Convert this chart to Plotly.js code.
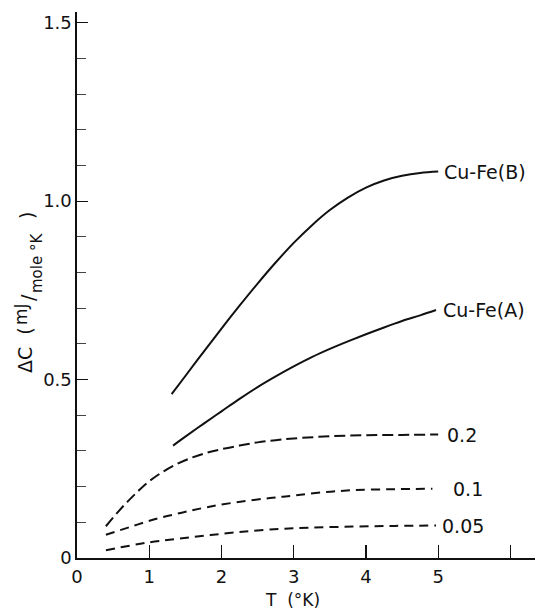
<!DOCTYPE html>
<html>
<head>
<meta charset="utf-8">
<script src="https://cdn.plot.ly/plotly-3.0.1.min.js"></script>
<style>
  html, body { margin: 0; padding: 0; background: #fff; }
  #chart { width: 536px; height: 610px; }
</style>
</head>
<body>
<div id="chart"></div>
<script>
// Excess specific heat ΔC (mJ/mole °K) against temperature T (°K)
const tB = [1.31, 1.5, 1.75, 2.0, 2.25, 2.5, 2.75, 3.0, 3.25, 3.5, 3.75, 4.0, 4.25, 4.5, 4.75, 5.0];
const cB = [0.459, 0.510, 0.577, 0.643, 0.707, 0.769, 0.828, 0.883, 0.932, 0.975, 1.010, 1.038, 1.058, 1.071, 1.079, 1.083];

const tA = [1.33, 1.5, 1.75, 2.0, 2.25, 2.5, 2.75, 3.0, 3.25, 3.5, 3.75, 4.0, 4.25, 4.5, 4.75, 4.97];
const cA = [0.315, 0.340, 0.376, 0.411, 0.446, 0.479, 0.509, 0.537, 0.563, 0.586, 0.607, 0.627, 0.646, 0.664, 0.680, 0.695];

const t02 = [0.40, 0.55, 0.70, 0.85, 1.0, 1.2, 1.4, 1.6, 1.8, 2.0, 2.25, 2.5, 2.75, 3.0, 3.5, 4.0, 4.5, 5.0];
const c02 = [0.089, 0.125, 0.158, 0.188, 0.215, 0.243, 0.265, 0.282, 0.295, 0.305, 0.315, 0.324, 0.330, 0.335, 0.341, 0.344, 0.345, 0.346];

const t01 = [0.40, 0.75, 1.10, 1.45, 1.79, 2.2, 2.67, 3.0, 3.4, 3.82, 4.4, 4.92];
const c01 = [0.065, 0.088, 0.110, 0.127, 0.142, 0.156, 0.168, 0.175, 0.184, 0.190, 0.193, 0.194];

const t005 = [0.40, 1.0, 1.4, 1.79, 2.2, 2.67, 3.2, 3.82, 4.4, 4.97];
const c005 = [0.022, 0.044, 0.054, 0.063, 0.072, 0.080, 0.085, 0.088, 0.090, 0.091];

const curveNames = ['Cu-Fe(B)', 'Cu-Fe(A)', '0.2', '0.1', '0.05'];

const xTickVals = [0, 1, 2, 3, 4, 5, 6];
const xTickText = ['0', '1', '2', '3', '4', '5', ''];
const yTickVals = [0, 0.5, 1.0, 1.5];
const yTickText = ['0', '0.5', '1.0', '1.5'];

const INK = '#111';
const FONT = 'DejaVu Sans, Liberation Sans, sans-serif';

const series = [
  { x: tB, y: cB, dash: 'solid', gapX: 0.05 },
  { x: tA, y: cA, dash: 'solid', gapX: 0.07 },
  { x: t02, y: c02, dash: '11px,5px', gapX: 0.09 },
  { x: t01, y: c01, dash: '9px,6px', gapX: 0.26 },
  { x: t005, y: c005, dash: '9px,6px', gapX: 0.05 }
];

const traces = series.map((s, i) => ({
  type: 'scatter',
  mode: 'lines',
  x: s.x,
  y: s.y,
  name: curveNames[i],
  line: { color: INK, width: 2, dash: s.dash, shape: 'spline', smoothing: 1 },
  hoverinfo: 'skip'
}));

// Curve labels sit just past the end of each curve
const labels = series.map((s, i) => ({
  x: s.x[s.x.length - 1] + s.gapX,
  y: s.y[s.y.length - 1],
  xref: 'x', yref: 'y',
  text: curveNames[i],
  showarrow: false,
  xanchor: 'left', yanchor: 'middle',
  font: { family: FONT, size: 19, color: INK }
}));

// Plot box in pixels, used to place the axis titles
const PLOT = { left: 77, width: 458, bottom: 558, height: 546 };
const px = v => (v - PLOT.left) / PLOT.width;
const py = v => (PLOT.bottom - v) / PLOT.height;

// Vertical axis title, set piece by piece as a slanted fraction
const yTitleParts = [
  { text: 'ΔC  (', x: 25, y: 350, size: 19 },
  { text: 'mJ', x: 21, y: 314, size: 17 },
  { text: '/', x: 28, y: 298, size: 19 },
  { text: 'mole °K', x: 37, y: 263, size: 15 },
  { text: ')', x: 27, y: 216, size: 19 }
].map(p => ({
  xref: 'paper', yref: 'paper',
  x: px(p.x), y: py(p.y),
  text: p.text,
  textangle: -90,
  showarrow: false,
  xanchor: 'center', yanchor: 'middle',
  font: { family: FONT, size: p.size, color: INK }
}));

const layout = {
  width: 536,
  height: 610,
  margin: { l: 77, r: 1, t: 12, b: 52 },
  paper_bgcolor: '#fff',
  plot_bgcolor: '#fff',
  showlegend: false,
  font: { family: FONT, size: 18, color: INK },
  xaxis: {
    range: [0, 6.34],
    tickmode: 'array',
    tickvals: xTickVals,
    ticktext: xTickText,
    ticks: 'inside',
    ticklen: 13,
    tickwidth: 1.2,
    tickcolor: INK,
    ticklabelstandoff: 2,
    showline: true,
    linecolor: INK,
    linewidth: 1.6,
    showgrid: false,
    zeroline: false,
    tickfont: { family: FONT, size: 18, color: INK }
  },
  yaxis: {
    range: [0, 1.53],
    tickmode: 'array',
    tickvals: yTickVals,
    ticktext: yTickText,
    ticks: 'inside',
    ticklen: 11,
    tickwidth: 1.2,
    tickcolor: INK,
    minor: { dtick: 0.1, tick0: 0, ticks: 'inside', ticklen: 9, tickwidth: 1, tickcolor: '#444', showgrid: false },
    showline: true,
    linecolor: INK,
    linewidth: 1.6,
    showgrid: false,
    zeroline: false,
    tickfont: { family: FONT, size: 18, color: INK }
  },
  annotations: labels.concat(yTitleParts, [
    {
      xref: 'paper', yref: 'paper',
      x: px(292), y: py(600),
      text: 'T  (°K)',
      showarrow: false,
      xanchor: 'center', yanchor: 'middle',
      font: { family: FONT, size: 17, color: INK }
    }
  ])
};

Plotly.newPlot('chart', traces, layout, { staticPlot: true, displayModeBar: false });
</script>
</body>
</html>
